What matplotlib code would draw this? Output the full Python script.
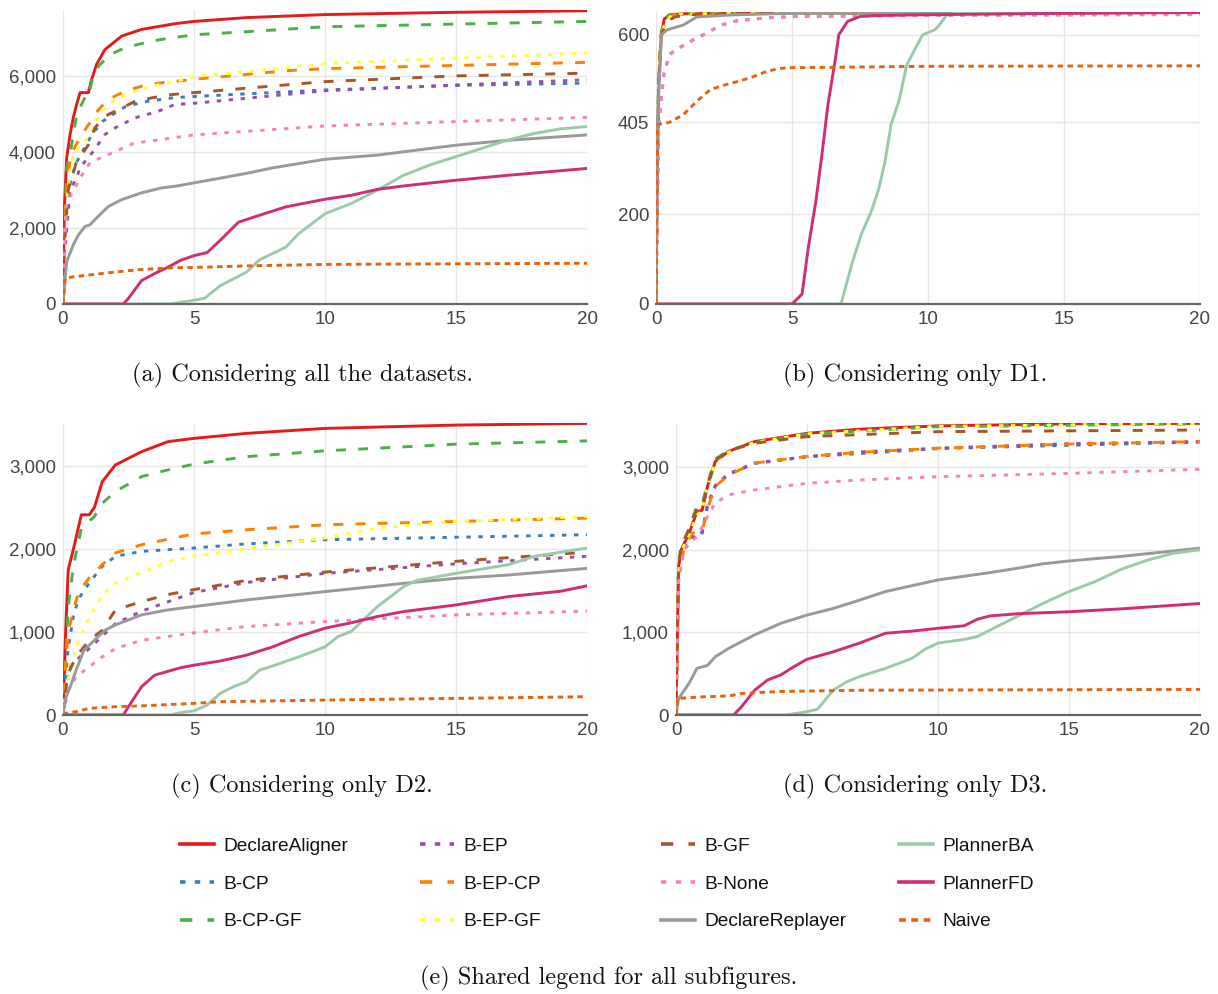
import matplotlib
matplotlib.use("Agg")
import matplotlib.pyplot as plt
from matplotlib.ticker import FuncFormatter

# series names, in legend order (column by column)
names = ["DeclareAligner", "B-CP", "B-CP-GF", "B-EP", "B-EP-CP", "B-EP-GF",
         "B-GF", "B-None", "DeclareReplayer", "PlannerBA", "PlannerFD", "Naive"]

# ---- (a) all datasets : (seconds, solved) ----
A_ALIGNER = [(0,0),(0.05,2500),(0.14,3840),(0.27,4450),(0.39,4890),(0.52,5240),(0.65,5550),(0.97,5550),(1.09,5890),(1.28,6290),(1.6,6680),(2.24,7035),(3.0,7210),(4.27,7360),(5,7420),(7,7520),(10,7600),(15,7660),(20,7700)]
A_CP = [(0,0),(0.05,1500),(0.2,3000),(0.5,3700),(1.1,4450),(1.5,4790),(2,5020),(2.4,5190),(3.2,5320),(4.27,5420),(5,5450),(10,5620),(15,5740),(20,5800)]
A_CPGF = [(0,0),(0.05,2000),(0.14,3580),(0.33,4180),(0.52,4970),(0.84,5430),(0.97,5430),(1.1,5850),(1.35,6240),(1.8,6550),(2.37,6730),(3.13,6860),(3.77,6950),(5,7070),(7,7150),(10,7280),(15,7350),(20,7420)]
A_EP = [(0,0),(0.05,1200),(0.27,3000),(0.52,3310),(0.65,3580),(1.16,4010),(1.6,4450),(2,4630),(2.75,4890),(3.6,5050),(4.27,5240),(5,5270),(10,5600),(15,5750),(20,5890)]
A_EPCP = [(0,0),(0.05,1500),(0.15,3300),(0.33,3970),(0.65,4370),(1.35,5100),(1.72,5370),(2.37,5590),(3,5720),(3.77,5810),(5,5900),(8.5,6125),(10,6180),(15,6265),(20,6345)]
A_EPGF = [(0,0),(0.05,1500),(0.14,2790),(0.33,3745),(0.46,4010),(0.84,4270),(1.1,4530),(1.22,4800),(1.73,5240),(2.1,5420),(2.75,5580),(3.39,5720),(4.27,5840),(5,5975),(7,6100),(10,6310),(15,6460),(20,6590)]
A_GF = [(0,0),(0.05,1500),(0.2,3000),(0.5,3700),(0.97,4180),(1.22,4630),(1.6,4930),(2.75,5320),(3.44,5420),(4.15,5500),(5,5550),(10,5840),(15,5990),(20,6060)]
A_NONE = [(0,0),(0.05,1200),(0.14,2690),(0.39,2955),(0.65,3310),(1.03,3710),(1.48,3850),(1.85,3960),(2.7,4220),(5,4440),(10,4675),(15,4790),(20,4900)]
A_REPLAYER = [(0,0),(0.14,1110),(0.39,1550),(0.59,1815),(0.84,2035),(1.03,2080),(1.28,2260),(1.73,2560),(2.24,2740),(3,2920),(3.77,3050),(4.27,3090),(5,3180),(7,3430),(8,3575),(10,3800),(12,3910),(15,4170),(17,4300),(20,4440)]
A_BA = [(0,0),(4.1,0),(5,100),(5.4,150),(6,480),(7,835),(7.5,1160),(8.5,1490),(9,1850),(10,2370),(11,2640),(12,2990),(13,3380),(14,3650),(15,3870),(17,4310),(18,4480),(19,4600),(20,4660)]
A_FD = [(0,0),(2.3,0),(2.5,150),(3,615),(3.5,800),(4,965),(4.5,1150),(5,1270),(5.5,1350),(6,1670),(6.7,2150),(7.5,2330),(8.5,2550),(10,2750),(11,2855),(12,3010),(13,3100),(15,3250),(17,3380),(20,3560)]
A_NAIVE = [(0,0),(0.08,680),(0.46,720),(1.6,810),(2.86,900),(4.15,950),(5,960),(7,1000),(10,1040),(15,1055),(20,1070)]

# ---- (b) D1 ----
B_ALIGNER = [(0,0),(0.05,300),(0.1,500),(0.2,600),(0.3,635),(0.5,645),(1,647),(2,648),(5,649),(20,650)]
B_CP = [(0,0),(0.05,200),(0.1,400),(0.2,462),(0.3,518),(0.5,556),(0.7,566),(1.4,590),(1.8,602),(2.4,622),(3,632),(4.1,638),(5.2,641),(10,644),(20,646)]
B_CPGF = [(0,0),(0.05,350),(0.1,520),(0.2,610),(0.3,635),(0.5,644),(1,647),(2,648),(5,649),(20,650)]
B_EP = [(0,0),(0.05,300),(0.1,500),(0.2,600),(0.35,628),(0.6,642),(1,646),(3,648),(20,650)]
B_EPCP = [(0,0),(0.05,320),(0.1,510),(0.2,605),(0.35,632),(0.6,644),(1.2,647),(20,650)]
B_EPGF = [(0,0),(0.05,300),(0.1,500),(0.2,600),(0.35,630),(0.6,644),(1,647),(3,648),(20,650)]
B_GF = [(0,0),(0.05,300),(0.1,490),(0.2,600),(0.4,630),(0.7,640),(1.2,645),(3,648),(20,650)]
B_NONE = [(0,0),(0.05,200),(0.1,400),(0.2,459),(0.3,515),(0.5,555),(0.65,563),(1.38,589),(1.74,600),(2.4,622),(3,631),(4.1,638),(5.2,641),(10,643),(20,645)]
B_REPLAYER = [(0,0),(0.05,400),(0.2,600),(0.4,611),(1,622),(1.5,640),(3,645),(5,648),(20,650)]
B_BA = [(0,0),(6.8,0),(6.9,22),(7.2,89),(7.55,156),(7.92,207),(8.2,259),(8.42,318),(8.64,400),(8.93,452),(9.22,533),(9.51,567),(9.8,600),(10.24,611),(10.38,619),(10.68,644),(11,648),(20,650)]
B_FD = [(0,0),(5.0,0),(5.37,22),(5.6,126),(5.88,230),(6.1,333),(6.32,444),(6.6,548),(6.72,600),(7.04,630),(7.5,641),(8.06,643),(10,645),(15,648),(20,650)]
B_NAIVE = [(0,0),(0.02,300),(0.05,400),(0.5,405),(1,422),(1.5,452),(2,478),(2.5,488),(3,496),(3.5,505),(4,517),(4.5,525),(5,527),(7,528),(10,530),(20,531)]

# ---- (c) D2 ----
C_ALIGNER = [(0,0),(0.1,1000),(0.2,1750),(0.4,2000),(0.7,2410),(1.0,2410),(1.2,2500),(1.5,2810),(2,3010),(3,3170),(4,3290),(5,3330),(7,3390),(10,3450),(15,3490),(20,3510)]
C_CP = [(0,0),(0.1,500),(0.2,800),(0.4,1200),(0.6,1400),(1,1590),(1.5,1790),(2,1910),(3,1970),(5,2010),(7,2060),(10,2110),(15,2140),(20,2170)]
C_CPGF = [(0,0),(0.1,700),(0.2,1300),(0.4,1800),(0.7,2250),(1.2,2390),(1.5,2550),(2,2690),(3,2870),(4,2950),(5,3020),(7,3110),(10,3180),(15,3260),(20,3300)]
C_EP = [(0,0),(0.1,300),(0.3,600),(1,800),(2,1100),(3,1250),(5,1475),(7,1595),(10,1705),(15,1820),(20,1910)]
C_EPCP = [(0,0),(0.1,600),(0.2,1000),(0.4,1265),(0.6,1485),(1,1650),(1.5,1810),(2,1950),(3,2050),(5,2180),(7,2230),(10,2290),(15,2330),(20,2370)]
C_EPGF = [(0,0),(0.1,300),(0.3,580),(0.6,900),(1,1165),(1.5,1445),(2,1590),(3,1715),(4,1850),(5,1910),(7,2000),(10,2130),(12,2250),(15,2330),(20,2390)]
C_GF = [(0,0),(0.1,300),(0.2,500),(0.5,700),(1,900),(1.5,1020),(2,1265),(3,1365),(4,1450),(5,1510),(7,1620),(10,1720),(15,1850),(20,1960)]
C_NONE = [(0,0),(0.1,150),(0.2,300),(0.5,460),(1,580),(1.5,700),(2,800),(3,900),(5,990),(7,1065),(10,1125),(15,1205),(20,1250)]
C_REPLAYER = [(0,0),(0.1,200),(0.3,360),(0.5,540),(0.8,780),(1.2,900),(1.6,1020),(2,1085),(3,1205),(4,1265),(5,1305),(7,1385),(10,1485),(13,1585),(15,1645),(17,1685),(20,1765)]
C_BA = [(0,0),(4.1,0),(4.5,30),(5,50),(5.5,120),(6,260),(6.5,340),(7,400),(7.5,540),(8,590),(9,700),(10,820),(10.5,945),(11,1005),(12,1305),(13,1545),(13.5,1620),(15,1705),(17,1810),(18,1910),(20,2010)]
C_FD = [(0,0),(2.3,0),(2.6,150),(3,340),(3.5,480),(4.5,570),(5,600),(6,650),(7,720),(8,820),(9,945),(10,1045),(11,1110),(12,1185),(13,1245),(15,1325),(17,1425),(19,1490),(20,1555)]
C_NAIVE = [(0,0),(0.1,20),(0.5,40),(1,80),(2,100),(3,110),(5,140),(6,160),(10,180),(15,200),(20,220)]

# ---- (d) D3 ----
D_ALIGNER = [(0,0),(0.05,900),(0.1,1800),(0.2,2000),(0.5,2200),(0.8,2460),(1,2480),(1.2,2765),(1.5,3070),(2,3190),(3,3310),(5,3410),(7,3460),(10,3500),(15,3525),(20,3530)]
D_CP = [(0,0),(0.05,800),(0.1,1700),(0.3,2000),(0.6,2180),(1,2210),(1.2,2520),(1.5,2770),(2,2910),(3,3045),(5,3125),(10,3225),(20,3305)]
D_CPGF = [(0,0),(0.05,900),(0.1,1850),(0.2,2050),(0.5,2250),(0.8,2540),(1,2550),(1.2,2800),(1.5,3100),(2,3200),(3,3300),(5,3400),(10,3490),(20,3525)]
D_EP = [(0,0),(0.05,800),(0.1,1700),(0.3,2000),(0.6,2150),(1.0,2200),(1.2,2550),(1.5,2780),(2,2920),(3,3050),(5,3130),(7,3185),(10,3230),(15,3285),(20,3310)]
D_EPCP = [(0,0),(0.05,800),(0.1,1700),(0.3,2000),(0.6,2200),(1.0,2220),(1.2,2500),(1.5,2765),(2,2905),(3,3050),(5,3130),(7,3180),(10,3230),(15,3280),(20,3310)]
D_EPGF = [(0,0),(0.05,850),(0.1,1750),(0.2,1980),(0.5,2180),(0.8,2420),(1,2480),(1.2,2760),(1.5,3060),(2,3180),(3,3300),(5,3405),(10,3495),(20,3530)]
D_GF = [(0,0),(0.05,900),(0.1,1800),(0.2,2050),(0.5,2250),(0.8,2500),(1,2500),(1.2,2780),(1.5,3080),(2,3200),(3,3290),(5,3370),(10,3430),(20,3450)]
D_NONE = [(0,0),(0.05,800),(0.1,1600),(0.3,2000),(0.8,2160),(1.2,2400),(1.5,2565),(2,2665),(3,2725),(5,2805),(7,2845),(10,2885),(15,2925),(20,2975)]
D_REPLAYER = [(0,0),(0.1,200),(0.5,385),(0.8,565),(1.2,600),(1.5,705),(2,805),(3,970),(4,1110),(5,1210),(6,1290),(7,1390),(8,1495),(10,1635),(12,1725),(13,1775),(14,1830),(15,1865),(17,1920),(20,2020)]
D_BA = [(0,0),(4.2,0),(5,40),(5.4,70),(6,300),(6.5,400),(7,465),(8,565),(9,685),(9.5,795),(10,870),(11,915),(11.5,950),(12,1030),(13,1190),(14,1350),(15,1495),(16,1615),(17,1765),(18,1875),(19,1960),(20,2000)]
D_FD = [(0,0),(2.2,0),(2.5,100),(3,300),(3.5,425),(4,485),(4.5,585),(5,675),(6,765),(7,870),(8,990),(9,1015),(10,1050),(11,1080),(11.5,1160),(12,1200),(13,1225),(15,1250),(17,1285),(20,1350)]
D_NAIVE = [(0,0),(0.05,200),(1,220),(2,230),(2.5,260),(3,270),(4,285),(5,290),(7,300),(20,310)]

panel_a = [A_ALIGNER, A_CP, A_CPGF, A_EP, A_EPCP, A_EPGF, A_GF, A_NONE, A_REPLAYER, A_BA, A_FD, A_NAIVE]
panel_b = [B_ALIGNER, B_CP, B_CPGF, B_EP, B_EPCP, B_EPGF, B_GF, B_NONE, B_REPLAYER, B_BA, B_FD, B_NAIVE]
panel_c = [C_ALIGNER, C_CP, C_CPGF, C_EP, C_EPCP, C_EPGF, C_GF, C_NONE, C_REPLAYER, C_BA, C_FD, C_NAIVE]
panel_d = [D_ALIGNER, D_CP, D_CPGF, D_EP, D_EPCP, D_EPGF, D_GF, D_NONE, D_REPLAYER, D_BA, D_FD, D_NAIVE]

captions = ["(a) Considering all the datasets.", "(b) Considering only D1.",
            "(c) Considering only D2.", "(d) Considering only D3.",
            "(e) Shared legend for all subfigures."]

# styles
dotted = (1.5, 2.6)
dashed = (3.4, 4.2)
solid = None
colors = ["#e41a1c", "#377eb8", "#4daf4a", "#984ea3", "#ff7f00", "#ffff33",
          "#a65628", "#f781bf", "#999999", "#9ccaa9", "#cf2d74", "#e8620c"]
dashes = [solid, dotted, dashed, dotted, dashed, dotted,
          dashed, dotted, solid, solid, solid, (1.9, 1.5)]

W, H = 1218, 994
fig = plt.figure(figsize=(W / 100, H / 100), dpi=100)


def px_axes(l, r, t, b):
    return fig.add_axes([l / W, 1 - b / H, (r - l) / W, (b - t) / H])


def draw(ax, series, ytop, yticks):
    for name, pts, col, ds in zip(names, series, colors, dashes):
        xs = [p[0] for p in pts]
        ys = [p[1] for p in pts]
        line, = ax.plot(xs, ys, color=col, lw=2.1, label=name)
        if ds is not None:
            line.set_dashes(ds)
    ax.set_xlim(0, 20)
    ax.set_ylim(0, ytop)
    ax.set_xticks([0, 5, 10, 15, 20])
    ax.set_yticks(yticks)
    ax.yaxis.set_major_formatter(FuncFormatter(lambda v, p: f"{int(v):,}"))
    ax.grid(True, color="#e6e6e6", lw=1.0)
    ax.set_axisbelow(True)
    for s in ["top", "right", "left"]:
        ax.spines[s].set_visible(False)
    ax.spines["bottom"].set_color("#666666")
    ax.spines["bottom"].set_linewidth(1.6)
    ax.spines["bottom"].set_zorder(5)
    ax.tick_params(length=0, labelsize=13.5, labelcolor="#444444", pad=5)
    for lab in ax.get_xticklabels() + ax.get_yticklabels():
        lab.set_fontfamily("Liberation Sans")


ax_a = px_axes(63, 587, 10, 304)
draw(ax_a, panel_a, 7720, [0, 2000, 4000, 6000])
ax_b = px_axes(656, 1200, 12, 304)
draw(ax_b, panel_b, 651, [0, 200, 405, 600])
ax_c = px_axes(63, 587, 423, 715)
draw(ax_c, panel_c, 3515, [0, 1000, 2000, 3000])
ax_d = px_axes(676, 1200, 423, 715)
draw(ax_d, panel_d, 3535, [0, 1000, 2000, 3000])

cap_pos = [(302, 375), (915, 375), (302, 786), (915, 786), (609, 978)]
for txt, (cx, cy) in zip(captions, cap_pos):
    fig.text(cx / W, 1 - cy / H, txt, ha="center", va="center",
             fontfamily="cmr10", fontsize=17.5, color="#111111")

# shared legend, four equal columns
handles, labels = ax_a.get_legend_handles_labels()
col_x = [180, 420, 661, 899]
for i, cx in enumerate(col_x):
    leg = fig.legend(handles[3 * i:3 * i + 3], labels[3 * i:3 * i + 3],
                     loc="center left", bbox_to_anchor=(cx / W, 1 - 884 / H),
                     frameon=False, borderpad=0, borderaxespad=0,
                     handlelength=1.75, handletextpad=0.5, labelspacing=1.05,
                     prop={"family": "Liberation Sans", "size": 13.8})
    for t in leg.get_texts():
        t.set_color("#111111")
    for ln in leg.get_lines():
        ln.set_linewidth(2.6)

fig.savefig("out.png", dpi=100)
